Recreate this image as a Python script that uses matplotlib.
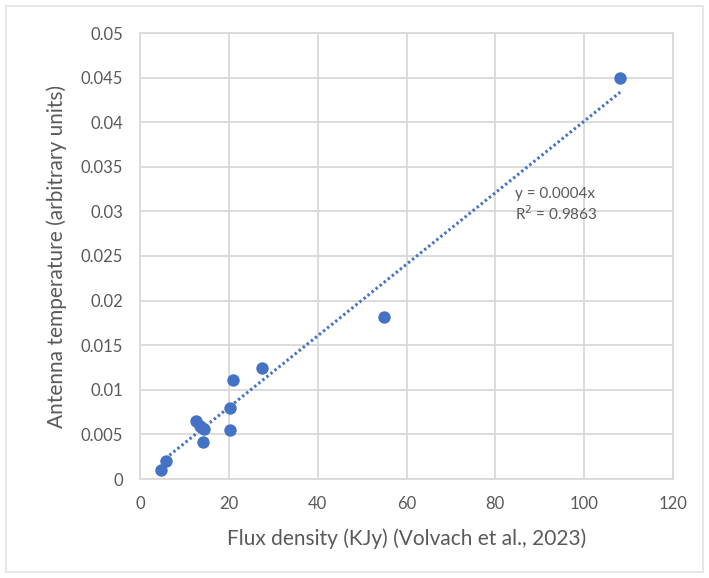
import matplotlib.pyplot as plt
import numpy as np
from matplotlib.patches import Rectangle

# Flux density (KJy) vs antenna temperature (arbitrary units)
flux = [4.8, 5.9, 12.6, 13.4, 14.3, 14.1, 20.3, 20.3, 21.0, 27.5, 55.0, 108.1]
temp = [0.0010, 0.0020, 0.0065, 0.0059, 0.0056, 0.0042, 0.0080, 0.0055, 0.0111, 0.0125, 0.0182, 0.0450]

x_ticks = [0, 20, 40, 60, 80, 100, 120]
y_ticks = [0, 0.005, 0.01, 0.015, 0.02, 0.025, 0.03, 0.035, 0.04, 0.045, 0.05]
y_ticklabels = ["0", "0.005", "0.01", "0.015", "0.02", "0.025", "0.03",
                "0.035", "0.04", "0.045", "0.05"]

plt.rcParams["font.family"] = ["Lato", "DejaVu Sans"]

BLUE = "#4472C4"
GRID = "#D9D9D9"
TEXT = "#595959"

fig = plt.figure(figsize=(7.09, 5.78), dpi=100)
ax = fig.add_axes([140 / 709, 99 / 578, 533 / 709, 446 / 578])

# faint chart-area border
fig.patches.append(Rectangle((6 / 709, 6 / 578), 697 / 709, 566 / 578,
                             transform=fig.transFigure, fill=False,
                             edgecolor="#E3E3E3", linewidth=1.2))

ax.scatter(flux, temp, s=80, color=BLUE, zorder=3, linewidths=0)

# linear trendline forced through zero
x = np.array(flux)
y = np.array(temp)
slope = np.sum(x * y) / np.sum(x * x)
xl = np.array([x.min(), x.max()])
ax.plot(xl, slope * xl, linestyle=(0, (0.8, 0.9)), color=BLUE,
        linewidth=2.2, zorder=2)

ax.text(84.5, 0.0307, "y = 0.0004x\nR$^{2}$ = 0.9863", fontsize=11,
        color=TEXT, ha="left", va="center", linespacing=1.25)

ax.set_xlim(0, 120)
ax.set_ylim(0, 0.05)
ax.set_xticks(x_ticks)
ax.set_yticks(y_ticks)
ax.set_yticklabels(y_ticklabels)
ax.tick_params(length=0, labelsize=12, labelcolor=TEXT, pad=12)
ax.grid(True, color=GRID, linewidth=1.3)
ax.set_axisbelow(True)
for s in ax.spines.values():
    s.set_color(GRID)
    s.set_linewidth(1.3)

ax.set_xlabel("Flux density (KJy) (Volvach et al., 2023)", fontsize=15,
              color=TEXT, labelpad=12)
ax.set_ylabel("Antenna temperature (arbitrary units)", fontsize=15,
              color=TEXT, labelpad=10)

fig.savefig("out.png", dpi=100)
